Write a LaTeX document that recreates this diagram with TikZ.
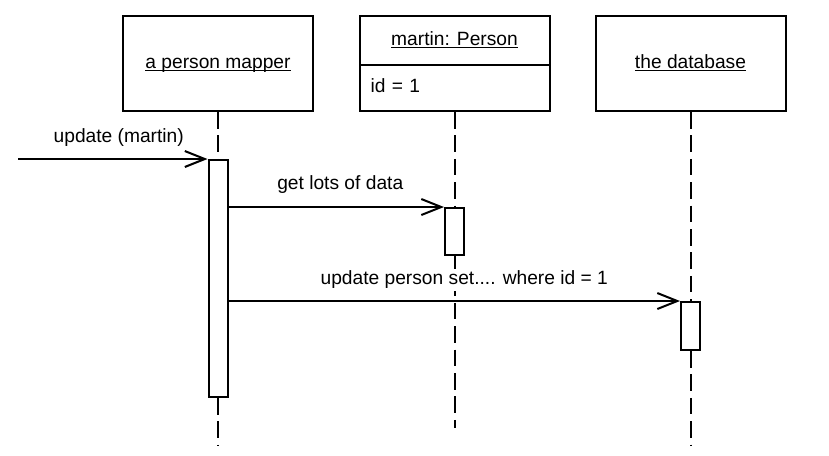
\documentclass[tikz,border=0pt]{standalone}
\usepackage{fontspec}
\setmainfont{Liberation Sans}
\usetikzlibrary{arrows.meta}
\newcommand{\widthobj}{95pt}
\newcommand{\widthbar}{9.5pt}
\newcommand{\uname}[1]{\underline{\smash{#1}}}
\tikzset{
    common/.style={draw, rectangle, line width=1pt, inner sep=0pt},
    object/.style={common, minimum width=\widthobj, minimum height=47.5pt, text height=6.5pt, text depth=2pt},
    actbar/.style={common, fill=white, minimum width=\widthbar, anchor=north},
    lifeline/.style={line width=1pt, dash pattern=on 8.3pt off 3.4pt},
    message/.style={line width=1pt, -{Straight Barb[length=10pt, width=8pt]}}
}
\begin{document}
\fontsize{9.6}{11.5}\selectfont
\begin{tikzpicture}[x=0.5pt, y=-0.5pt]
    \useasboundingbox (0,0) rectangle (829,455);
    \node[object] (mapper) at (218,63.5) {\uname{a person mapper}};
    \node[object, minimum height=24.5pt] (martin) at (454.5,40.5) {\uname{martin: Person}};
    \node[object, minimum height=23pt, anchor=north, yshift=1pt, text width=84pt, inner xsep=5.5pt, align=left] (attr) at (martin.south) {id = 1};
    \node[object] (db) at (690.5,63.5) {\uname{the database}};

    \node[actbar, minimum height=118.5pt] (act1) at (mapper.south |- 0,159) {};
    \node[actbar, minimum height=23.5pt] (act2) at (martin.south |- 0,207) {};
    \node[actbar, minimum height=24pt] (act3) at (db.south |- 0,301) {};

    \coordinate (start) at (18,159);
    \coordinate (end1) at (mapper.south |- 0,445);
    \coordinate (end2) at (martin.south |- 0,428);
    \coordinate (end3) at (db.south |- 0,445);

    \draw[lifeline] (mapper.south) -- (act1.north);
    \draw[lifeline] (act1.south) -- (end1);
    \draw[lifeline] (attr.south) -- (act2.north);
    \draw[lifeline] (act2.south) -- (end2);
    \draw[lifeline] (db.south) -- (act3.north);
    \draw[lifeline] (act3.south) -- (end3);

    \draw[message] (start) -- node[above=2.5pt, xshift=3pt] {update (martin)} (act1.north west);
    \draw[message] (act1.east |- act2.north) -- node[above=3pt, xshift=2pt] {get lots of data} (act2.north west);
    \draw[message] (act1.east |- act3.north) -- node[above=4.7pt, xshift=5pt, fill=white, inner ysep=1pt] {update person set.... where id = 1} (act3.north west);
\end{tikzpicture}
\end{document}
